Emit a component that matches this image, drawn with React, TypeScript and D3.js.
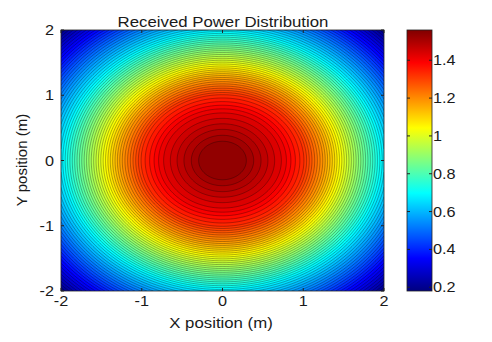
import * as d3 from "d3";
import React from "react";

// radial profile of received power (r in metres from centre)
const radii = [0, 0.25, 0.5, 0.75, 1.0, 1.25, 1.5, 1.75, 2.0, 2.25, 2.5, 2.75, 2.85];
const power = [1.555, 1.545, 1.49, 1.43, 1.34, 1.19, 1.02, 0.85, 0.68, 0.53, 0.38, 0.24, 0.18];

const xTicks = [-2, -1, 0, 1, 2];
const yTicks = [-2, -1, 0, 1, 2];
const cbTicks = [0.2, 0.4, 0.6, 0.8, 1, 1.2, 1.4];
const colorLimits = [0.18, 1.56];

const W = 492;
const H = 342;
const plot = { left: 61, right: 384, top: 30, bottom: 291 };
const bar = { left: 407, right: 432 };
const FONT = "'Liberation Sans', Arial, sans-serif";
const STRETCH = 1.12;

function jet(t: number) {
  const c = (v: number) => Math.round(255 * Math.max(0, Math.min(1, v)));
  const r = c(1.5 - Math.abs(4 * t - 3));
  const g = c(1.5 - Math.abs(4 * t - 2));
  const b = c(1.5 - Math.abs(4 * t - 1));
  return `rgb(${r},${g},${b})`;
}

function Label({ x, y, anchor = "middle", size = 15, rotate = 0, children }: any) {
  const tr = rotate
    ? `translate(${x},${y}) rotate(${rotate})`
    : `translate(${x},${y}) scale(${STRETCH},1)`;
  return (
    <text
      transform={tr}
      textAnchor={anchor}
      fontFamily={FONT}
      fontSize={size}
      fill="#1a1a1a"
    >
      {children}
    </text>
  );
}

export default function App() {
  const xScale = d3.scaleLinear().domain([-2, 2]).range([plot.left, plot.right]);
  const yScale = d3.scaleLinear().domain([-2, 2]).range([plot.bottom, plot.top]);
  const cScale = d3.scaleLinear().domain(colorLimits).range([plot.bottom, plot.top]);
  const norm = d3.scaleLinear().domain(colorLimits).range([0, 1]).clamp(true);
  const profile = d3.scaleLinear().domain(radii).range(power).clamp(true);

  // sample grid for d3.contours
  const nx = 241;
  const ny = 241;
  const values = new Array(nx * ny);
  for (let j = 0; j < ny; j++) {
    const y = 2 - (4 * j) / (ny - 1);
    for (let i = 0; i < nx; i++) {
      const x = -2 + (4 * i) / (nx - 1);
      values[j * nx + i] = profile(Math.hypot(x, y));
    }
  }
  const levels = d3.range(0.195, 1.55, 0.02);
  const contours = d3.contours().size([nx, ny]).thresholds(levels)(values);

  const proj = d3.geoTransform({
    point(gx: number, gy: number) {
      this.stream.point(
        xScale(-2 + (4 * (gx - 0.5)) / (nx - 1)),
        yScale(2 - (4 * (gy - 0.5)) / (ny - 1))
      );
    },
  });
  const path = d3.geoPath(proj);

  const gradStops = d3.range(0, 1.0001, 0.025);

  return (
    <svg
      width={W}
      height={H}
      style={{ position: "absolute", left: 0, top: 0, background: "#fff" }}
    >
      <defs>
        <clipPath id="plotClip">
          <rect
            x={plot.left}
            y={plot.top}
            width={plot.right - plot.left}
            height={plot.bottom - plot.top}
          />
        </clipPath>
        <linearGradient id="jetGrad" x1="0" y1="1" x2="0" y2="0">
          {gradStops.map((s) => (
            <stop key={s} offset={s} stopColor={jet(s)} />
          ))}
        </linearGradient>
      </defs>

      <g clipPath="url(#plotClip)">
        <rect
          x={plot.left}
          y={plot.top}
          width={plot.right - plot.left}
          height={plot.bottom - plot.top}
          fill={jet(0)}
        />
        {contours.map((c) => (
          <path
            key={c.value}
            d={path(c as any) || ""}
            fill={jet(norm(c.value))}
            stroke="#000"
            strokeOpacity={0.5}
            strokeWidth={0.6}
          />
        ))}
      </g>
      <rect
        x={plot.left}
        y={plot.top}
        width={plot.right - plot.left}
        height={plot.bottom - plot.top}
        fill="none"
        stroke="#222"
        strokeWidth={0.8}
      />

      {xTicks.map((t) => (
        <g key={`x${t}`}>
          <line x1={xScale(t)} x2={xScale(t)} y1={plot.bottom} y2={plot.bottom - 3} stroke="#222" />
          <line x1={xScale(t)} x2={xScale(t)} y1={plot.top} y2={plot.top + 3} stroke="#222" />
          <Label x={xScale(t)} y={306} size={14.5}>{t}</Label>
        </g>
      ))}
      {yTicks.map((t) => (
        <g key={`y${t}`}>
          <line x1={plot.left} x2={plot.left + 3} y1={yScale(t)} y2={yScale(t)} stroke="#222" />
          <line x1={plot.right} x2={plot.right - 3} y1={yScale(t)} y2={yScale(t)} stroke="#222" />
          <Label x={54} y={yScale(t) + 5} anchor="end" size={14.5}>{t}</Label>
        </g>
      ))}

      <rect
        x={bar.left}
        y={plot.top}
        width={bar.right - bar.left}
        height={plot.bottom - plot.top}
        fill="url(#jetGrad)"
        stroke="#222"
        strokeWidth={0.8}
      />
      {cbTicks.map((t) => (
        <g key={`c${t}`}>
          <line x1={bar.right} x2={bar.right - 3} y1={cScale(t)} y2={cScale(t)} stroke="#222" />
          <line x1={bar.left} x2={bar.left + 3} y1={cScale(t)} y2={cScale(t)} stroke="#222" />
          <Label x={433} y={cScale(t) + 5} anchor="start" size={14.5}>{t}</Label>
        </g>
      ))}

      <Label x={223} y={27}>Received Power Distribution</Label>
      <Label x={221} y={328}>X position (m)</Label>
      <Label x={27} y={160} rotate={-90}>Y position (m)</Label>
    </svg>
  );
}
